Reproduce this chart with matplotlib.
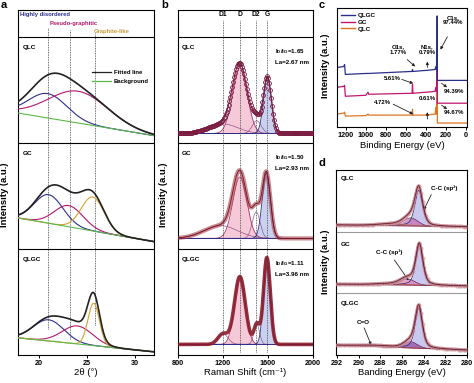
import numpy as np
import matplotlib.pyplot as plt
from matplotlib.lines import Line2D

plt.rcParams['font.family'] = ['Liberation Sans', 'DejaVu Sans']
plt.rcParams['font.weight'] = 'bold'
plt.rcParams['mathtext.fontset'] = 'custom'
plt.rcParams['mathtext.rm'] = 'Liberation Sans:bold'
plt.rcParams['mathtext.bf'] = 'Liberation Sans:bold'
plt.rcParams['mathtext.it'] = 'Liberation Sans:bold'
plt.rcParams['axes.linewidth'] = 0.8
plt.rcParams['xtick.major.width'] = 0.7
plt.rcParams['xtick.major.size'] = 2
plt.rcParams['xtick.major.pad'] = 1.5

# ---------------- data ----------------
samples = ['QLC', 'GC', 'QLGC']
offsets = {'QLC': 2, 'GC': 1, 'QLGC': 0}

# (a) XRD peak fit: linear background (left, right) + gaussian peaks (centre, height, sigma)
xrd_bg = {'QLC': (0.28, 0.07), 'GC': (0.29, 0.07), 'QLGC': (0.16, 0.03)}
xrd_peaks = {
    'QLC': [(20.9, 0.23, 2.0), (24.1, 0.30, 3.1)],
    'GC': [(21.0, 0.27, 1.5), (23.1, 0.20, 1.5), (25.6, 0.32, 1.2)],
    'QLGC': [(21.0, 0.20, 1.6), (24.0, 0.17, 1.6), (25.7, 0.40, 0.6)],
}
xrd_lines = [20.9, 23.2, 25.8]
xrd_line_ends = [0.25, 0.15, 0.28]

# (b) Raman fit: baseline + D1, D, D2, G (centre, height, sigma)
raman_base = {'QLC': 0.09, 'GC': 0.10, 'QLGC': 0.10}
raman_peaks = {
    'QLC': [(1200, 0.09, 130), (1350, 0.62, 65), (1500, 0.12, 40), (1595, 0.53, 35)],
    'GC': [(1180, 0.12, 150), (1350, 0.58, 62), (1495, 0.25, 35), (1585, 0.62, 36)],
    'QLGC': [(1200, 0.10, 45), (1350, 0.64, 48), (1500, 0.19, 25), (1590, 0.82, 30)],
}
raman_ratio = {'QLC': ('1.65', '2.67'), 'GC': ('1.50', '2.93'), 'QLGC': ('1.11', '3.96')}
raman_bands = ['D1', 'D', 'D2', 'G']
raman_lines = [1200, 1350, 1490, 1590]

# (c) XPS survey
survey_be = [1290, 1222, 1214, 1206, 1000, 978, 972, 545, 536, 532, 528, 410, 402, 398,
             305, 298, 292, 287, 284.5, 282, 278, -15]
survey = {
    'QLGC': [60, 61, 63, 53, 54, 54, 54, 56, 56, 58, 56, 57, 57, 57, 58, 61, 58, 62, 112, 47, 47, 47],
    'GC': [40, 41, 42, 31, 32, 35, 33, 34, 34, 43, 34, 35, 35, 35, 36, 40, 36, 40, 80, 24, 24, 24],
    'QLC': [13, 14, 15, 11, 11.5, 13, 12, 12, 12, 18, 12, 12, 12, 12, 13, 20, 13, 18, 60, 4, 4, 4],
}
survey_colors = {'QLGC': '#2a2f86', 'GC': '#c0166e', 'QLC': '#e0741e'}

# (d) C1s fit: linear baseline (292 eV, 280 eV), sp2 pseudo-voigt (centre, height, fwhm), others gaussian
c1s_base = {'QLC': (0.11, 0.08), 'GC': (0.15, 0.12), 'QLGC': (0.16, 0.08)}
c1s_sp2 = {'QLC': (284.45, 0.58, 0.85), 'GC': (284.40, 0.66, 0.78), 'QLGC': (284.45, 0.66, 0.78)}
c1s_shoulder = {'QLC': (285.2, 0.13, 0.65), 'GC': (285.5, 0.10, 0.65), 'QLGC': (285.2, 0.10, 0.6)}
c1s_tail = {'QLC': (286.8, 0.03, 1.3), 'GC': (287.0, 0.02, 1.3), 'QLGC': (288.5, 0.02, 1.5)}
shoulder_colors = {'QLC': '#c763a6', 'GC': '#e072aa', 'QLGC': '#8c3c9c'}


def gauss(x, c, h, s):
    return h * np.exp(-(x - c) ** 2 / (2 * s ** 2))


def pvoigt(x, c, h, fwhm, eta=0.5):
    s = fwhm / 2.3548
    lor = 1 / (1 + ((x - c) / (fwhm / 2)) ** 2)
    return h * (eta * lor + (1 - eta) * np.exp(-(x - c) ** 2 / (2 * s ** 2)))


W, H = 474, 383
fig = plt.figure(figsize=(W / 100, H / 100), dpi=100)


def px_axes(left, top, right, bottom):
    return fig.add_axes([left / W, 1 - bottom / H, (right - left) / W, (bottom - top) / H])


def fig_text(x, y, s, **kw):
    fig.text(x / W, 1 - y / H, s, **kw)


# ---------------- (a) XRD ----------------
ax = px_axes(18, 9.5, 154, 355)
x = np.linspace(17.8, 32, 700)
comp_colors = ['#2b2f8f', '#b5176e', '#d6a32e']
for name in samples:
    off = offsets[name]
    b0, b1 = xrd_bg[name]
    bg = b0 + (b1 - b0) * (x - 18) / 14
    total = bg.copy()
    for i, (c, h, s) in enumerate(xrd_peaks[name]):
        g = gauss(x, c, h, s)
        total += g
        ax.plot(x, off + bg + g, color=comp_colors[i], lw=0.8, zorder=3)
    ax.plot(x, off + bg, color='#5cb84a', lw=0.8, zorder=3)
    ax.plot(x, off + total, color='#222222', lw=1.2, zorder=4)
    ax.text(18.25, off + 0.9, name, fontsize=4.6, va='center', ha='left')
for xl, ye, ys in zip(xrd_lines, xrd_line_ends, [3.09, 3.07, 3.04]):
    ax.vlines(xl, ye, ys, colors='#444444', linestyles=(0, (1, 1)), lw=0.6, zorder=2)
for yy in (1, 2, 3):
    ax.axhline(yy, color='black', lw=0.8)
ax.text(18.05, 3.215, 'Highly disordered', color='#2b2f8f', fontsize=4.2, va='center')
ax.text(21.15, 3.13, 'Pseudo-graphitic', color='#b5176e', fontsize=4.2, va='center')
ax.text(25.7, 3.05, 'Graphite-like', color='#c89a3a', fontsize=4.2, va='center')
ax.legend(handles=[Line2D([], [], color='#222222', lw=0.9), Line2D([], [], color='#5cb84a', lw=0.9)],
          labels=['Fitted line', 'Background'], loc='upper right', bbox_to_anchor=(1.0, 0.84),
          frameon=False, fontsize=4.3, handlelength=3.2, handletextpad=0.5, labelspacing=0.6)
ax.set_xlim(17.8, 32)
ax.set_ylim(0, 3.26)
ax.set_yticks([])
ax.set_xticks([20, 25, 30])
ax.tick_params(axis='x', labelsize=5.2)
ax.set_xlabel('2θ (°)', fontsize=6.8, labelpad=1)

# ---------------- (b) Raman ----------------
ax = px_axes(178, 9.5, 313, 355)
x = np.linspace(800, 2000, 700)
xs = np.linspace(800, 2000, 140)
for name in samples:
    off = offsets[name]
    base = raman_base[name]
    total = np.full_like(x, base)
    total_s = np.full_like(xs, base)
    for i, (c, h, s) in enumerate(raman_peaks[name]):
        g = gauss(x, c, h, s)
        total += g
        total_s += gauss(xs, c, h, s)
        if i == 1:
            ax.fill_between(x, off + base, off + base + g, color='#f4bccf', alpha=0.8, lw=0, zorder=2)
            ax.plot(x, off + base + g, color='#b0306a', lw=0.6, zorder=3)
        elif i == 3:
            ax.fill_between(x, off + base, off + base + g, color='#bcc6ea', alpha=0.8, lw=0, zorder=2)
            ax.plot(x, off + base + g, color='#2a2a8a', lw=0.6, zorder=3)
        else:
            ax.plot(x, off + base + g, color='#7b3a7a', lw=0.5, alpha=0.8, zorder=3)
    ax.axhline(off + base, xmin=0, xmax=1, color='#2a2a8a', lw=0.6, zorder=3)
    if name == 'QLC':
        ax.plot(xs, off + total_s, 'o', ms=2.8, mfc='none', mec='#7a1a40', mew=0.6, zorder=5)
        ax.plot(x, off + total, color='#7a1a40', lw=0.8, zorder=5)
    elif name == 'GC':
        ax.plot(x, off + total, color='#a23a45', lw=3.0, alpha=0.6, solid_capstyle='round', zorder=5)
        ax.plot(x, off + total, color='#7a1020', lw=0.6, zorder=6)
    else:
        ax.plot(x, off + total, color='#8b1a2a', lw=2.6, alpha=0.9, solid_capstyle='round', zorder=5)
    ratio, la = raman_ratio[name]
    ax.text(1665, off + 0.86, r'I$_{D}$/I$_{G}$=' + ratio, fontsize=4.5, va='center')
    ax.text(1665, off + 0.76, 'La=' + la + ' nm', fontsize=4.5, va='center')
    ax.text(830, off + 0.9, name, fontsize=4.6, va='center')
for xl in raman_lines:
    ax.vlines(xl, 0.03, 3.16, colors='#444444', linestyles=(0, (1, 1)), lw=0.6, zorder=7)
for band, xl in zip(raman_bands, raman_lines):
    ax.text(xl, 3.21, band, fontsize=4.8, ha='center', va='center')
for yy in (1, 2, 3):
    ax.axhline(yy, color='black', lw=0.8)
ax.set_xlim(800, 2000)
ax.set_ylim(0, 3.26)
ax.set_yticks([])
ax.set_xticks([800, 1200, 1600, 2000])
ax.tick_params(axis='x', labelsize=5.2)
ax.set_xlabel('Raman Shift (cm⁻¹)', fontsize=6.8, labelpad=1)

# ---------------- (c) XPS survey ----------------
ax = px_axes(337, 8, 467, 127)
for name in ['QLC', 'GC', 'QLGC']:
    ax.plot(survey_be, survey[name], color=survey_colors[name], lw=0.9)
handles = [Line2D([], [], color=survey_colors[n], lw=1.0) for n in ['QLGC', 'GC', 'QLC']]
ax.legend(handles, ['QLGC', 'GC', 'QLC'], loc='upper left', bbox_to_anchor=(0.0, 1.0),
          frameon=False, fontsize=4.5, handlelength=2.2, handletextpad=0.4, labelspacing=0.25,
          borderaxespad=0.3)
arrow = dict(arrowstyle='-|>', lw=0.6, color='#222222', mutation_scale=4, shrinkA=0, shrinkB=0)
ax.text(122, 108, 'C1s,\n97.44%', fontsize=4.3, ha='center', va='center', linespacing=1.1)
ax.annotate('', xy=(252, 78), xytext=(182, 91), arrowprops=arrow)
ax.text(676, 78, 'O1s,\n1.77%', fontsize=4.3, ha='center', va='center', linespacing=1.1)
ax.annotate('', xy=(505, 61), xytext=(585, 68), arrowprops=arrow)
ax.text(383, 78, 'N1s,\n0.79%', fontsize=4.3, ha='center', va='center', linespacing=1.1)
ax.annotate('', xy=(383, 66), xytext=(383, 60), arrowprops=arrow)
ax.text(736, 49, '5.61%', fontsize=4.3, ha='center', va='center')
ax.annotate('', xy=(525, 44), xytext=(640, 48), arrowprops=arrow)
ax.text(120, 36, '94.39%', fontsize=4.3, ha='center', va='center')
ax.annotate('', xy=(185, 40), xytext=(240, 44), arrowprops=arrow)
ax.text(383, 29, '0.61%', fontsize=4.3, ha='center', va='center')
ax.annotate('', xy=(383, 15), xytext=(383, 8), arrowprops=arrow)
ax.text(837, 25, '4.72%', fontsize=4.3, ha='center', va='center')
ax.annotate('', xy=(525, 13), xytext=(726, 23), arrowprops=arrow)
ax.text(120, 15, '94.67%', fontsize=4.3, ha='center', va='center')
ax.annotate('', xy=(185, 18), xytext=(240, 22), arrowprops=arrow)
ax.set_xlim(1290, -15)
ax.set_ylim(0, 120)
ax.set_yticks([])
ax.set_xticks([1200, 1000, 800, 600, 400, 200, 0])
ax.tick_params(axis='x', labelsize=5.2)
ax.set_xlabel('Binding Energy (eV)', fontsize=6.8, labelpad=1.5)

# ---------------- (d) C1s ----------------
ax = px_axes(336, 170, 467, 355)
x = np.linspace(280, 292, 700)
xs = np.linspace(280, 292, 80)
for name in samples:
    off = offsets[name]
    b0, b1 = c1s_base[name]
    base = b1 + (b0 - b1) * (x - 280) / 12
    base_s = b1 + (b0 - b1) * (xs - 280) / 12
    sp2 = pvoigt(x, *c1s_sp2[name])
    sh = gauss(x, *c1s_shoulder[name])
    tl = gauss(x, *c1s_tail[name])
    total = base + sp2 + sh + tl
    total_s = base_s + pvoigt(xs, *c1s_sp2[name]) + gauss(xs, *c1s_shoulder[name]) + gauss(xs, *c1s_tail[name])
    ax.fill_between(x, off + base, off + base + sp2, color='#c9c9ef', lw=0, zorder=2)
    ax.plot(x, off + base + sp2, color='#30307a', lw=0.6, zorder=3)
    ax.fill_between(x, off + base, off + base + sh, color=shoulder_colors[name], alpha=0.65, lw=0, zorder=2)
    ax.plot(x, off + base + sh, color='#6a1a5a', lw=0.5, zorder=3)
    ax.plot(x, off + base + tl, color='#c0704a', lw=0.5, zorder=3)
    ax.plot(x, off + base, color='#8a3040', lw=0.6, zorder=3)
    ax.plot(x, off + total, color='#b05868', lw=2.0, alpha=0.75, zorder=4)
    ax.plot(xs, off + total_s, 'o', ms=2.2, mfc='none', mec='#c89098', mew=0.5, zorder=5)
    ax.plot(x, off + total, color='#5a1020', lw=0.5, zorder=5)
ax.text(291.7, 2.86, 'QLC', fontsize=4.6, va='center')
ax.text(291.7, 1.79, 'GC', fontsize=4.6, va='center')
ax.text(291.7, 0.84, 'QLGC', fontsize=4.6, va='center')
ax.text(282.1, 2.71, 'C-C (sp²)', fontsize=4.5, ha='center', va='center')
ax.annotate('', xy=(284.0, 2.35), xytext=(283.3, 2.6), arrowprops=arrow)
ax.text(287.2, 1.67, 'C-C (sp³)', fontsize=4.5, ha='center', va='center')
ax.annotate('', xy=(285.4, 1.21), xytext=(286.7, 1.54), arrowprops=arrow)
ax.text(289.6, 0.53, 'C=O', fontsize=4.5, ha='center', va='center')
ax.annotate('', xy=(288.85, 0.16), xytext=(289.5, 0.44), arrowprops=arrow)
for yy in (1, 2):
    ax.axhline(yy, color='#999999', lw=0.8)
ax.set_xlim(292.1, 280)
ax.set_ylim(0, 3)
ax.set_yticks([])
ax.set_xticks([292, 290, 288, 286, 284, 282, 280])
ax.tick_params(axis='x', labelsize=5.2)
ax.set_xlabel('Banding Energy (eV)', fontsize=6.8, labelpad=1)

# ---------------- labels ----------------
fig_text(5, 195, 'Intensity (a.u.)', fontsize=6.8, rotation=90, ha='center', va='center')
fig_text(164, 195, 'Intensity (a.u.)', fontsize=6.8, rotation=90, ha='center', va='center')
fig_text(325, 66, 'Intensity (a.u.)', fontsize=6.8, rotation=90, ha='center', va='center')
fig_text(325, 262, 'Intensity (a.u.)', fontsize=6.8, rotation=90, ha='center', va='center')
for lab, px, py in [('a', 4, 5), ('b', 165, 5), ('c', 322, 5), ('d', 322, 163)]:
    fig_text(px, py, lab, fontsize=8, ha='center', va='center')

fig.savefig('out.png', dpi=100)
